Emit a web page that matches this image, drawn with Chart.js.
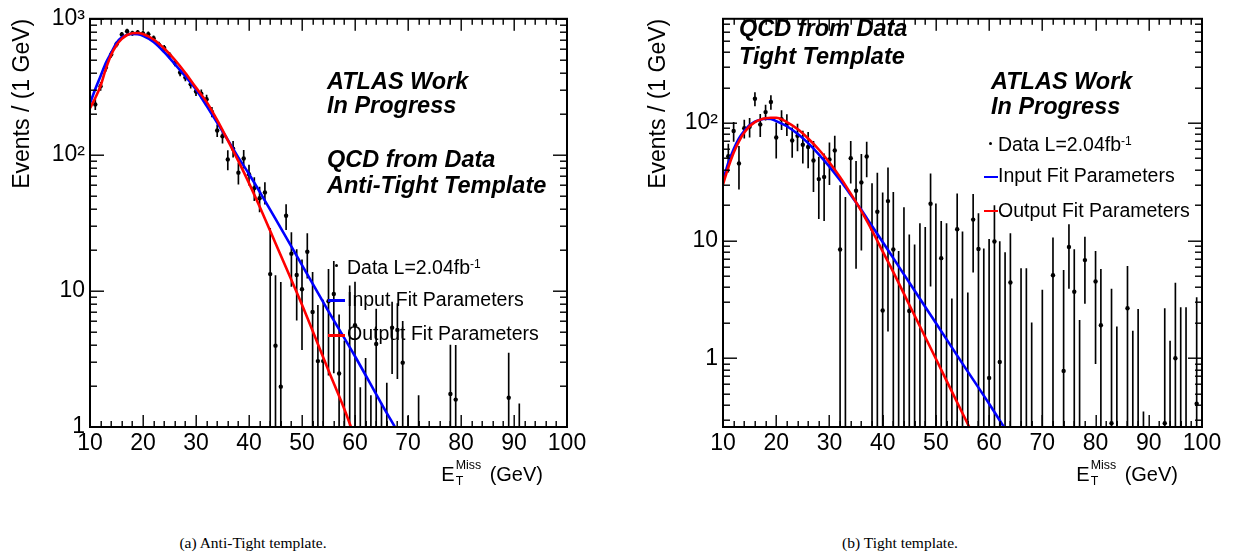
<!DOCTYPE html>
<html>
<head>
<meta charset="utf-8">
<script src="https://cdn.jsdelivr.net/npm/chart.js@4.4.0/dist/chart.umd.min.js"></script>
<style>
html,body{margin:0;padding:0;background:#fff;}
body{width:1245px;height:559px;position:relative;overflow:hidden;font-family:"Liberation Sans",Arial,sans-serif;}
canvas{position:absolute;top:0;}
.t{position:absolute;white-space:nowrap;color:#000;line-height:1;}
.bi{font-weight:bold;font-style:italic;}
.cap{font-family:"Liberation Serif","DejaVu Serif",serif;}
.t sup{font-size:0.62em;position:relative;top:-0.55em;vertical-align:baseline;line-height:0;}
.mk{position:absolute;}
</style>
</head>
<body>
<canvas id="cA" width="620" height="470" style="left:0px;width:620px;height:470px"></canvas>
<canvas id="cB" width="609" height="470" style="left:633px;width:609px;height:470px"></canvas>
<script>
// ---------------- DATA ----------------
// Panel (a): Anti-Tight template
const antiX   = [11,12,13,14,15,16,17,18,19,20,21,22,23,24,25,26,27,28,29,30,31,32,33,34,35,36,37,38,39,40,41,42,43,44,45,46,47,48,49,50,51,52,53,54,55,56,57,58,59,60,61,62,63,64,65,66,67,68,69,70,72,78,79,89,91];
const antiY   = [235,319,438,547,650,767,811,784,793,780,
                 771,720,646,611,540,476,403,371,330,292,
                 281,256,207,151,137,92.6,111,74,94,72,
                 57,48,53,13.3,3.96,1.98,35.7,18.8,13.1,10.3,
                 19.4,7.0,3.05,3.05,8.4,9.5,2.47,0.3,0.5,5.6,
                 0.3,0.3,0.2,4.07,0.2,0.3,5.37,5.17,2.97,0.2,
                 0.2,1.75,1.59,1.64,0.2];
const antiErr = [20,22,25,27,28,30,31,30,30,30,
                 30,29,28,27,26,25,23,22,21,20,
                 20,19,17,15,15,15,15,13,14,12,
                 11,10,9.5,15.6,9,9.6,7.5,8,7,6.6,
                 7,6.7,4.8,5.5,6,7,4.2,4,10.4,6,
                 1.65,2.9,1.5,3.3,1.3,1.8,2.9,2.9,3.0,1.0,
                 1.5,2.25,2.4,1.86,1.28];
const antiFitX      = [10,11,12,13,14,15,16,17,18,19,20,22,24,26,28,30,32,34,36,38,40,42,45,50,55,60,65,68,70];
const antiInputFit  = [238,305,380,475,562,665,730,762,775,770,750,676,569,465,378,302,229,172,129,95.5,72.4,53.7,33.9,15.5,7.08,3.31,1.48,0.93,0.68];
const antiOutputFitX= [10,11,12,13,14,15,16,17,18,19,20,22,24,26,28,30,32,34,36,38,40,42,45,50,55,58,60];
const antiOutputFit = [220,262,322,430,545,640,712,760,783,786,772,705,605,500,400,312,245,180,128,90,62,41.7,22.4,7.9,2.6,1.35,0.83];

// Panel (b): Tight template
const tightX   = [11,12,13,14,15,16,17,18,19,20,21,22,23,24,25,26,27,28,29,30,31,32,33,34,35,36,37,38,39,40,41,42,43,44,45,46,47,48,49,50,51,52,53,54,55,56,57,58,59,60,61,62,63,64,
                  66,67,68,70,72,74,75,76,77,78,80,81,83,84,86,87,88,89,93,94,95,96,97,99];
const tightY   = [52.2,85.7,45.4,90.3,93,161,97.5,124,151,75.3,
                  108,98,71.1,77.9,65.5,62.6,48.1,33.4,34.8,49,
                  58.6,8.4,0.1,50.3,26.6,31.3,51.9,12.6,17.6,2.55,
                  21.7,8.4,0.1,0.1,2.52,0.1,0.1,0.1,20.6,0.1,
                  7.1,0.1,0.1,12.5,0.1,0.1,15.1,8.5,0.1,0.68,
                  9.85,0.93,0.1,4.41,
                  0.1,0.1,0.1,0.1,5.08,0.78,8.83,3.68,0.1,6.83,
                  4.5,1.91,0.28,0.1,2.66,0.1,0.1,0.1,0.28,0.1,
                  1.0,0.1,0.1,0.41];
const tightErr = [14,16,18,16,17,21,21,18,20,25,
                  20,20,20,20,20,21,22,18,20,19,
                  19,21,23.3,19.5,20.8,23,17,18,20,23,
                  20,17.4,8.0,19,8.7,9.1,13.9,12.9,16.5,20.5,
                  7.5,13.9,3.1,12.5,11.8,3.5,9.7,8.5,8.4,9.6,
                  10,8.9,7.8,7.1,
                  5.7,5.7,1.9,3.7,5.5,4.8,4.9,4.7,2.0,3.9,
                  3.6,3.8,3.6,1.75,3.4,1.6,2.5,0.25,2.36,1.3,
                  3.35,2.6,2.6,2.87];
const tightFitX      = [10,11,12,13,14,15,16,17,18,19,20,22,24,26,28,30,32,34,36,38,40,42,45,50,55,60,65];
const tightInputFit  = [32,46,60,74,86,96,103,107,109,108.5,104,94,81,67.5,54.3,42.6,32.6,24.5,18.2,13.3,9.75,7.1,4.4,1.99,0.90,0.41,0.18];
const tightOutputFit = [30,42,56,70,83,94,102,107,110,111,111,102,89,74,59.6,46.2,34.7,25.1,17.8,12.2,8.1,5.4,2.85,0.99,0.34,0.12,0.045];

// Axis tick labels
const xTickValues    = [10,20,30,40,50,60,70,80,90,100];
const antiYTicks     = [1,10,100,1000];
const tightYTicks    = [1,10,100];
const antiYRange     = [1,1000];
const tightYRange    = [0.26,771];
const xRange         = [10,100];

// ---------------- RENDERING ----------------
const SUP = {'2':'\u00B2','3':'\u00B3'};
function logLabel(v){
  const e = Math.round(Math.log10(v));
  if (e === 0) return '1';
  if (e === 1) return '10';
  return '10' + SUP[String(e)];
}

let tickCount = 0, tickErr = '';
const frameTicks = {
  id: 'frameTicks',
  afterDraw(chart){
    const ctx = chart.ctx, a = chart.chartArea;
    const x = chart.scales.x, y = chart.scales.y;
    ctx.save();
    try {
      ctx.fillStyle = '#000';
      const minorStep = 2;
      const x0 = xRange[0], x1 = xRange[1];
      for (let v = x0; v <= x1 + 1e-9; v += minorStep){
        const px = Math.round(x.getPixelForValue(v));
        const L = (Math.abs(v % 10) < 1e-9) ? 12 : 6;
        ctx.fillRect(px - 0.5, a.bottom - L, 1.4, L);
        ctx.fillRect(px - 0.5, a.top, 1.4, L);
        tickCount++;
      }
      const ylo = y.min, yhi = y.max;
      const d0 = Math.floor(Math.log10(ylo)), d1 = Math.ceil(Math.log10(yhi));
      for (let d = d0; d <= d1; d++){
        for (let m = 1; m <= 9; m++){
          const v = m * Math.pow(10, d);
          if (v < ylo*0.999 || v > yhi*1.001) continue;
          const py = Math.round(y.getPixelForValue(v));
          const L = (m === 1) ? 14 : 7;
          ctx.fillRect(a.left, py - 0.5, L, 1.4);
          ctx.fillRect(a.right - L, py - 0.5, L, 1.4);
          tickCount++;
        }
      }
    } catch(e) { tickErr = String(e); }
    ctx.lineWidth = 2;
    ctx.strokeStyle = '#000';
    ctx.strokeRect(a.left, a.top, a.right - a.left, a.bottom - a.top);
    ctx.restore();
  }
};

function makeChart(canvasId, opt){
  const pts = [], bars = [];
  opt.xs.forEach((xv,i)=>{
    const v = opt.ys[i], e = opt.errs[i];
    pts.push({x:xv, y:v});
    bars.push({x:xv, y:[Math.max(v - e, opt.yRange[0]*0.05), v + e]});
  });
  const red  = opt.outX.map((xv,i)=>({x:xv, y:opt.outFit[i]}));
  const blue = opt.inX.map((xv,i)=>({x:xv, y:opt.inFit[i]}));
  return new Chart(document.getElementById(canvasId), {
    type: 'line',
    data: { datasets: [
      {label:'Output Fit Parameters', data:red, borderColor:'#ff0000', borderWidth:2.6, pointRadius:0,
       cubicInterpolationMode:'monotone', fill:false, clip:0},
      {label:'Input Fit Parameters', data:blue, borderColor:'#0000ff', borderWidth:2.6, pointRadius:0,
       cubicInterpolationMode:'monotone', fill:false, clip:0},
      {label:'Data', data:pts, showLine:false, pointRadius:2.2, pointBackgroundColor:'#000',
       pointBorderWidth:0, borderColor:'#000', clip:0},
      {type:'bar', label:'err', data:bars, backgroundColor:'#000', borderWidth:0,
       barThickness:1, grouped:false, clip:0}
    ]},
    options: {
      responsive:false, animation:false, devicePixelRatio:1,
      layout:{padding:{top:12, right:opt.padR, bottom:0, left:0}},
      plugins:{legend:{display:false}, tooltip:{enabled:false}},
      scales:{
        x:{type:'linear', min:xRange[0], max:xRange[1], offset:false,
           grid:{display:false, drawTicks:false}, border:{display:false},
           ticks:{autoSkip:false, maxRotation:0, padding:3, color:'#000',
                  font:{family:'Liberation Sans', size:23}},
           afterBuildTicks(s){ s.ticks = xTickValues.map(v=>({value:v})); },
           afterFit(s){ s.height = 43; }},
        y:{type:'logarithmic', min:opt.yRange[0], max:opt.yRange[1],
           grid:{display:false, drawTicks:false}, border:{display:false},
           ticks:{autoSkip:false, padding:5, color:'#000', font:{family:'Liberation Sans', size:23},
                  callback:(v)=>logLabel(v)},
           title:{display:true, text:'Events / (1 GeV)', align:'end', color:'#000',
                  font:{family:'Liberation Sans', size:23}, padding:{top:opt.titlePad, bottom:0}},
           afterBuildTicks(s){ s.ticks = opt.yTicks.map(v=>({value:v})); },
           afterFit(s){ s.width = 90; }}
      }
    },
    plugins:[frameTicks]
  });
}

makeChart('cA', {xs:antiX, ys:antiY, errs:antiErr, inX:antiFitX, inFit:antiInputFit,
                 outX:antiOutputFitX, outFit:antiOutputFit, yRange:antiYRange, yTicks:antiYTicks,
                 padR:53, titlePad:9});
makeChart('cB', {xs:tightX, ys:tightY, errs:tightErr, inX:tightFitX, inFit:tightInputFit,
                 outX:tightFitX, outFit:tightOutputFit, yRange:tightYRange, yTicks:tightYTicks,
                 padR:40, titlePad:12});

// ---------------- TEXT OVERLAY ----------------
const ASC = 0.8465;
function addText(html, x, baseline, size, cls, align){
  const d = document.createElement('div');
  d.className = 't ' + (cls||'');
  d.style.fontSize = size + 'px';
  d.innerHTML = html;
  d.style.left = x + 'px';
  d.style.top = (baseline - ASC*size) + 'px';
  if (align === 'right') d.style.transform = 'translateX(-100%)';
  if (align === 'center') d.style.transform = 'translateX(-50%)';
  document.body.appendChild(d);
}
function addBox(x, y, w, h, color, round){
  const d = document.createElement('div');
  d.className = 'mk';
  d.style.left = x+'px'; d.style.top = y+'px';
  d.style.width = w+'px'; d.style.height = h+'px';
  d.style.background = color;
  if (round) d.style.borderRadius = '50%';
  document.body.appendChild(d);
}
const lum = 'Data L=2.04fb<sup>-1</sup>';
// panel a
addText('ATLAS Work', 327, 90, 23.5, 'bi');
addText('In Progress', 327, 114, 23.5, 'bi');
addText('QCD from Data', 327, 168, 23.5, 'bi');
addText('Anti-Tight Template', 327, 194, 23.5, 'bi');
addBox(334.5, 263.5, 3, 3, '#000', true);
addText(lum, 347, 275, 19.5);
addBox(328, 299, 17, 2.6, '#0000ff');
addText('Input Fit Parameters', 347, 307, 19.5);
addBox(328, 334, 17, 2.6, '#ff0000');
addText('Output Fit Parameters', 347, 341, 19.5);
// panel b
addText('QCD from Data', 739, 37, 23.5, 'bi');
addText('Tight Template', 739, 65, 23.5, 'bi');
addText('ATLAS Work', 991, 90, 23.5, 'bi');
addText('In Progress', 991, 115, 23.5, 'bi');
addBox(988.5, 141.5, 3, 3, '#000', true);
addText(lum, 998, 152, 19.5);
addBox(984, 175.5, 14, 2.6, '#0000ff');
addText('Input Fit Parameters', 998, 183, 19.5);
addBox(984, 209.5, 14, 2.6, '#ff0000');
addText('Output Fit Parameters', 998, 218, 19.5);
// x-axis titles
const xTitle = 'E<span style="display:inline-block;position:relative;width:1.75em;height:1em;vertical-align:baseline">' +
  '<span style="position:absolute;left:1px;top:-2px;font-size:0.62em">Miss</span>' +
  '<span style="position:absolute;left:1px;top:14px;font-size:0.62em">T</span></span>(GeV)';
addText(xTitle, 543, 478, 20, '', 'right');
addText(xTitle, 1178, 478, 20, '', 'right');
// captions
addText('(a) Anti-Tight template.', 253, 548, 15.5, 'cap', 'center');
addText('(b) Tight template.', 900, 548, 15.5, 'cap', 'center');
if (tickErr) addText('ERR ' + tickErr + ' n=' + tickCount, 10, 520, 12);
</script>
</body>
</html>
